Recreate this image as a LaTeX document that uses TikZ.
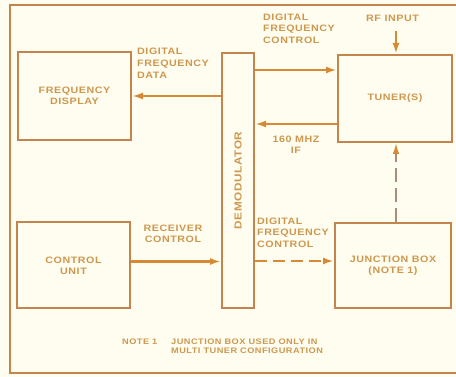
\documentclass[tikz,border=0pt]{standalone}
\usepackage{fontspec}
\usetikzlibrary{arrows.meta}
\newfontfamily\lbl[FakeStretch=1.15,LetterSpace=6,BoldFont={Liberation Sans Bold}]{Liberation Sans}
\definecolor{bg}{RGB}{255,253,240}
\definecolor{boxc}{RGB}{196,132,78}
\definecolor{arrc}{RGB}{214,138,52}
\definecolor{txtc}{RGB}{205,152,78}
\definecolor{dashc}{RGB}{170,140,120}
\begin{document}
\begin{tikzpicture}[x=1pt,y=-1pt,
  blk/.style={draw=boxc,line width=2pt,rectangle,inner sep=0pt,align=center,
     font=\lbl\bfseries\fontsize{9.3}{10.8}\selectfont,text=txtc},
  lab/.style={inner sep=0pt,font=\lbl\bfseries\fontsize{9.3}{11.8}\selectfont,text=txtc},
  arr/.style={draw=arrc,line width=2.3pt,-{Latex[length=11pt,width=7pt]}},
  darr/.style={arr,dash pattern=on 12pt off 6pt},
  varr/.style={draw=dashc,line width=1.5pt,dash pattern=on 14pt off 6pt,
     -{Latex[length=11pt,width=6.5pt,color=arrc,fill=arrc]}},
  frame/.style={draw=boxc,line width=2.6pt}]
\fill[bg] (0,0) rectangle (456,377);
\useasboundingbox (0,0) rectangle (456,377);
% outer frame (open on the right)
\draw[frame] (456,5) -- (10,5) -- (10,373) -- (456,373);
% blocks
\node[blk,minimum width=113pt,minimum height=88pt] (fd) at (74.5,96) {FREQUENCY\\DISPLAY};
\node[blk,minimum width=32pt,minimum height=255pt] (dm) at (238,180.5) {};
\node[lab,rotate=90,font=\lbl\bfseries\fontsize{10.2}{10}\selectfont] (dmt) at (dm.center) {DEMODULATOR};
\node[blk,minimum width=114pt,minimum height=87pt] (tu) at (395,98.5) {TUNER(S)};
\node[blk,minimum width=113pt,minimum height=86pt] (cu) at (73.5,265.5) {CONTROL\\UNIT};
\node[blk,minimum width=116pt,minimum height=85pt] (jb) at (393,265.5) {JUNCTION BOX\\(NOTE 1)};
% connector end points
\coordinate (rf) at (396,31);
\coordinate (dfc) at ([yshift=28.5pt]tu.west);
\coordinate (ifc) at ([yshift=-25.5pt]tu.west);
\coordinate (rcc) at ([yshift=4pt]cu.east);
\coordinate (jbc) at ([yshift=4.5pt]jb.west);
% connectors
\draw[arr] (dm.west |- fd.east) -- (fd.east);
\draw[arr] (dm.east |- dfc) -- (dfc);
\draw[arr] (ifc) -- (dm.east |- ifc);
\draw[arr] (rf) -- (rf |- tu.north);
\draw[varr] (rf |- jb.north) -- (rf |- tu.south);
\draw[arr] (rcc) -- (dm.west |- rcc);
\draw[darr] (dm.east |- jbc) -- (jbc);
% labels
\node[lab,anchor=north west,align=left] (l1) at (137,48) {DIGITAL\\FREQUENCY\\DATA};
\node[lab,anchor=north west,align=left] (l2) at (263,13.5) {DIGITAL\\FREQUENCY\\CONTROL};
\node[lab,anchor=north west] (l3) at (366,15) {RF INPUT};
\node[lab,anchor=north,align=center] (l4) at (296,135.5) {160 MHZ\\IF};
\node[lab,anchor=north,align=center] (l5) at (173,224.5) {RECEIVER\\CONTROL};
\node[lab,anchor=north west,align=left] (l6) at (257,217.5) {DIGITAL\\FREQUENCY\\CONTROL};
\node[lab,anchor=north west,font=\lbl\bfseries\fontsize{8}{9}\selectfont] (n1) at (122,339) {NOTE 1};
\node[lab,anchor=north west,align=left,font=\lbl\bfseries\fontsize{8}{9}\selectfont] (n2) at (171,339) {JUNCTION BOX USED ONLY IN\\MULTI TUNER CONFIGURATION};
\end{tikzpicture}
\end{document}
